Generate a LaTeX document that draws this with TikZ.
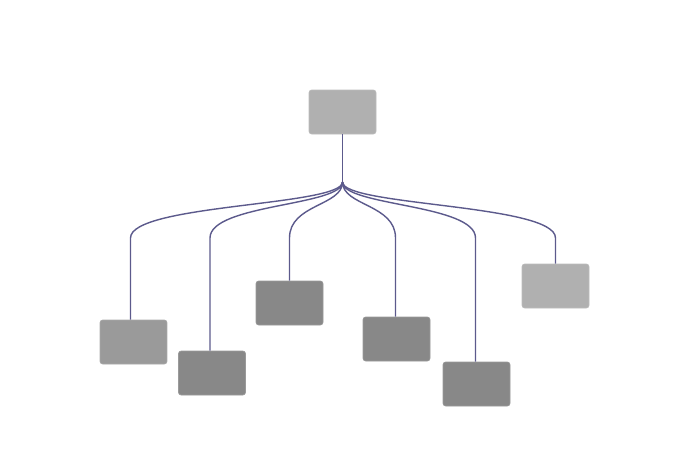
\documentclass[tikz,border=0pt]{standalone}
\usepackage{tikz}
\usetikzlibrary{calc,positioning}
\definecolor{linkcol}{RGB}{92,90,140}
\definecolor{boxlight}{RGB}{176,176,176}
\definecolor{boxmid}{RGB}{154,154,154}
\definecolor{boxdark}{RGB}{136,136,136}
\tikzset{
  box/.style={rectangle, rounded corners=1.5pt, minimum width=1.34cm, minimum height=0.88cm,
    inner sep=0pt, draw=#1!85!white, line width=0.4pt, fill=#1},
  link/.style={draw=linkcol, line width=0.8pt}
}
\begin{document}
\begin{tikzpicture}[x=0.02cm, y=-0.02cm]
        % canvas
        \useasboundingbox (0,0) rectangle (675,450);
        % boxes
        \node[box=boxlight] (root) at (342.5,112) {};
        \node[box=boxmid]   (c1) at (133.5,342) {};
        \node[box=boxdark]  (c2) at (212,373) {};
        \node[box=boxdark]  (c3) at (289.5,303) {};
        \node[box=boxdark]  (c4) at (396.5,339) {};
        \node[box=boxdark]  (c5) at (476.5,384) {};
        \node[box=boxlight] (c6) at (555.5,286) {};
        %hub, bend level and drop points
        \coordinate (hub) at (342.5,182);
        \coordinate (bend) at (0,238);
        \coordinate (d1) at ($(c1.north)+(-3,0)$);
        \coordinate (d2) at ($(c2.north)+(-2,0)$);
        \coordinate (d3) at (c3.north);
        \coordinate (d4) at ($(c4.north)+(-1,0)$);
        \coordinate (d5) at ($(c5.north)+(-1,0)$);
        \coordinate (d6) at (c6.north);
        %links
        \draw[link] (root) -- (hub);
        \draw[link] (hub) .. controls +(0,24) and +(0,-34) .. (d1 |- bend) -- (d1);
        \draw[link] (hub) .. controls +(0,24) and +(0,-34) .. (d2 |- bend) -- (d2);
        \draw[link] (hub) .. controls +(0,24) and +(0,-34) .. (d3 |- bend) -- (d3);
        \draw[link] (hub) .. controls +(0,24) and +(0,-34) .. (d4 |- bend) -- (d4);
        \draw[link] (hub) .. controls +(0,24) and +(0,-34) .. (d5 |- bend) -- (d5);
        \draw[link] (hub) .. controls +(0,24) and +(0,-34) .. (d6 |- bend) -- (d6);
      \end{tikzpicture}
\end{document}
